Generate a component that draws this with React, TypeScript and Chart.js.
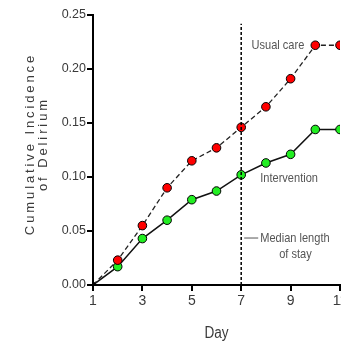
import React, { useEffect, useRef } from "react";
import { Chart, registerables } from "chart.js";

Chart.register(...registerables);

const days = [1, 2, 3, 4, 5, 6, 7, 8, 9, 10, 11];
const usualCare = [0, 0.023, 0.055, 0.09, 0.115, 0.127, 0.146, 0.165, 0.191, 0.222, 0.222];
const intervention = [0, 0.017, 0.043, 0.06, 0.079, 0.087, 0.102, 0.113, 0.121, 0.144, 0.144];
const medianDay = 7;
const yTicks = [0, 0.05, 0.1, 0.15, 0.2, 0.25];
const xTicks = [1, 3, 5, 7, 9, 11];

const SANS = '"Liberation Sans", Arial, sans-serif';
const TEXT = "#3a3a3a";

const pointColors = (c: string) => days.map((d, i) => (i === 0 ? "#000" : c));
const pointRadii = days.map((d, i) => (i === 0 ? 2.5 : 4.3));

function narrowText(ctx: any, text: string, x: number, y: number, align: string, sx = 0.85) {
  ctx.save();
  ctx.translate(x, y);
  ctx.scale(sx, 1);
  ctx.textAlign = align;
  ctx.fillText(text, 0, 0);
  ctx.restore();
}

export default function App() {
  const ref = useRef<HTMLCanvasElement | null>(null);
  useEffect(() => {
    if (!ref.current) return;
    const textPlugin = {
      id: "texts",
      afterDraw(chart: any) {
        const { ctx, scales } = chart;
        const xs = scales.x;
        const ys = scales.y;
        ctx.save();
        // y axis title
        ctx.fillStyle = TEXT;
        ctx.font = "13px " + SANS;
        (ctx as any).letterSpacing = "2.9px";
        ctx.textAlign = "center";
        ctx.textBaseline = "middle";
        const cy = (ys.top + ys.bottom) / 2 - 6;
        ctx.translate(30, cy);
        ctx.rotate(-Math.PI / 2);
        ctx.fillText("Cumulative Incidence", 0, 0);
        ctx.fillText("of Delirium", 0, 13);
        ctx.restore();

        ctx.save();
        // x axis title
        ctx.fillStyle = TEXT;
        ctx.font = "16px " + SANS;
        ctx.textBaseline = "alphabetic";
        narrowText(ctx, "Day", (xs.left + xs.right) / 2, 338, "center");

        ctx.fillStyle = "#555";
        ctx.font = "13px " + SANS;
        ctx.textBaseline = "middle";
        narrowText(ctx, "Usual care", xs.getPixelForValue(10) - 11, ys.getPixelForValue(usualCare[9]), "right");
        narrowText(ctx, "Intervention", xs.getPixelForValue(medianDay) + 19, ys.getPixelForValue(intervention[6]) + 4, "left");
        const mx = xs.getPixelForValue(medianDay);
        const my = ys.getPixelForValue(0.0435);
        ctx.strokeStyle = "#555";
        ctx.lineWidth = 1;
        ctx.beginPath();
        ctx.moveTo(mx + 3, my);
        ctx.lineTo(mx + 17, my);
        ctx.stroke();
        narrowText(ctx, "Median length", mx + 19, my, "left");
        narrowText(ctx, "of stay", mx + 38, my + 16, "left");
        ctx.restore();
      },
    };

    const chart = new Chart(ref.current, {
      type: "line",
      data: {
        datasets: [
          {
            label: "Median",
            data: [
              { x: medianDay, y: 0 },
              { x: medianDay, y: 0.242 },
            ],
            borderColor: "#000",
            borderWidth: 1.5,
            borderDash: [3, 2],
            pointRadius: 0,
          },
          {
            label: "Usual care",
            data: days.map((d, i) => ({ x: d, y: usualCare[i] })),
            borderColor: "#222",
            borderWidth: 1.3,
            borderDash: [5, 3],
            pointBackgroundColor: pointColors("#ff0000"),
            pointBorderColor: "#000",
            pointBorderWidth: 1,
            pointRadius: pointRadii,
          },
          {
            label: "Intervention",
            data: days.map((d, i) => ({ x: d, y: intervention[i] })),
            borderColor: "#111",
            borderWidth: 1.5,
            pointBackgroundColor: pointColors("#22ee22"),
            pointBorderColor: "#000",
            pointBorderWidth: 1,
            pointRadius: pointRadii,
          },
        ],
      },
      options: {
        animation: false,
        responsive: true,
        maintainAspectRatio: false,
        layout: { padding: { left: 0, right: 20, top: 15, bottom: 0 } },
        plugins: { legend: { display: false }, tooltip: { enabled: false } },
        scales: {
          x: {
            type: "linear",
            min: 1,
            max: 11,
            afterFit: (s: any) => {
              s.height = 59;
            },
            afterBuildTicks: (s: any) => {
              s.ticks = xTicks.map((v) => ({ value: v }));
            },
            border: { color: "#000", width: 2 },
            grid: { drawOnChartArea: false, drawTicks: true, tickLength: 6, color: "#000", lineWidth: 2 },
            ticks: {
              color: TEXT,
              font: { family: SANS, size: 14 },
              padding: 2,
              maxRotation: 0,
              autoSkip: false,
            },
            title: { display: false },
          },
          y: {
            min: 0,
            max: 0.25,
            afterFit: (s: any) => {
              s.width = 93;
            },
            afterBuildTicks: (s: any) => {
              s.ticks = yTicks.map((v) => ({ value: v }));
            },
            border: { color: "#000", width: 2 },
            grid: { drawOnChartArea: false, drawTicks: true, tickLength: 6, color: "#000", lineWidth: 2 },
            ticks: {
              color: TEXT,
              font: { family: SANS, size: 12.5 },
              padding: 1,
              callback: (v: any) => Number(v).toFixed(2),
            },
          },
        },
      },
      plugins: [textPlugin],
    });
    return () => chart.destroy();
  }, []);
  return (
    <div style={{ position: "absolute", left: 0, top: 0, width: 360, height: 344 }}>
      <canvas ref={ref} />
    </div>
  );
}
